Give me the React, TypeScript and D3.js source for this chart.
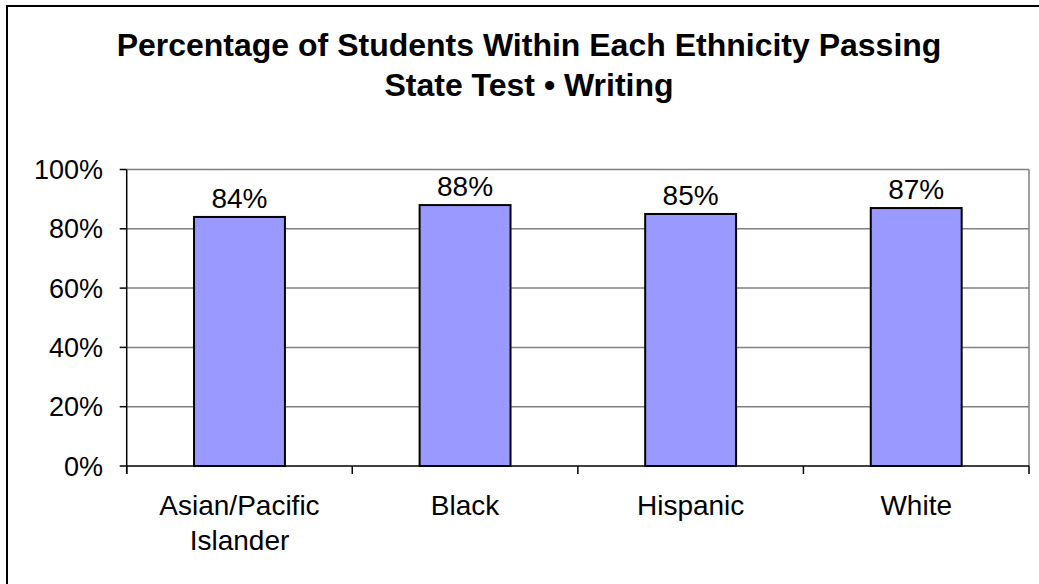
import React from "react";
import * as d3 from "d3";

// Passing rates by ethnicity, state writing test
const categories: string[][] = [["Asian/Pacific", "Islander"], ["Black"], ["Hispanic"], ["White"]];
const passRates: number[] = [84, 88, 85, 87];
const yTicks: number[] = [0, 20, 40, 60, 80, 100];
const titleLines: string[] = ["Percentage of Students Within Each Ethnicity Passing", "State Test \u2022 Writing"];

const W = 1039;
const H = 584;
const plot = { left: 126.7, right: 1029, top: 169.5, bottom: 466 };
const font = "Arial, 'Liberation Sans', Helvetica, sans-serif";

export default function App() {
  const x = d3
    .scaleBand<number>()
    .domain(d3.range(passRates.length))
    .range([plot.left, plot.right])
    .paddingInner(0.597)
    .paddingOuter(0.2985);
  const y = d3.scaleLinear().domain([0, 100]).range([plot.bottom, plot.top]);
  const step = x.step();
  const boundaries = d3.range(passRates.length + 1).map((i) => plot.left + i * step);

  return (
    <svg
      width={W}
      height={H}
      style={{ position: "absolute", left: 0, top: 0, background: "#fff" }}
      fontFamily={font}
    >
      {/* chart frame */}
      <rect x={7} y={6} width={1100} height={700} fill="none" stroke="#000" strokeWidth={2} />

      {/* title */}
      {titleLines.map((t, i) => (
        <text key={i} x={529} y={56 + i * 40} textAnchor="middle" fontSize={32} fontWeight="bold" fill="#000">
          {t}
        </text>
      ))}

      {/* gridlines */}
      {yTicks.slice(1).map((v) => (
        <line key={v} x1={plot.left} x2={plot.right} y1={y(v)} y2={y(v)} stroke="#808080" strokeWidth={1.5} />
      ))}
      {/* plot area right edge */}
      <line x1={plot.right} x2={plot.right} y1={plot.top} y2={plot.bottom} stroke="#808080" strokeWidth={1.5} />

      {/* bars */}
      {passRates.map((v, i) => (
        <rect
          key={i}
          x={x(i)!}
          y={y(v)}
          width={x.bandwidth()}
          height={plot.bottom - y(v)}
          fill="#9999FF"
          stroke="#000"
          strokeWidth={2}
        />
      ))}

      {/* value labels */}
      {passRates.map((v, i) => (
        <text key={i} x={x(i)! + x.bandwidth() / 2} y={y(v) - 9} textAnchor="middle" fontSize={28} fill="#000">
          {v}%
        </text>
      ))}

      {/* y axis */}
      <line x1={plot.left} x2={plot.left} y1={plot.top} y2={plot.bottom + 8} stroke="#000" strokeWidth={1.5} />
      {yTicks.map((v) => (
        <g key={v}>
          <line x1={plot.left - 7} x2={plot.left} y1={y(v)} y2={y(v)} stroke="#000" strokeWidth={1.5} />
          <text x={103} y={y(v) + 9.5} textAnchor="end" fontSize={27} fill="#000">
            {v}%
          </text>
        </g>
      ))}

      {/* x axis */}
      <line x1={plot.left} x2={plot.right} y1={plot.bottom} y2={plot.bottom} stroke="#000" strokeWidth={1.5} />
      {boundaries.map((bx, i) => (
        <line key={i} x1={bx} x2={bx} y1={plot.bottom} y2={plot.bottom + 8} stroke="#000" strokeWidth={1.5} />
      ))}
      {categories.map((lines, i) => (
        <text key={i} x={x(i)! + x.bandwidth() / 2} textAnchor="middle" fontSize={28} fill="#000">
          {lines.map((l, j) => (
            <tspan key={j} x={x(i)! + x.bandwidth() / 2} y={515 + j * 35}>
              {l}
            </tspan>
          ))}
        </text>
      ))}
    </svg>
  );
}
